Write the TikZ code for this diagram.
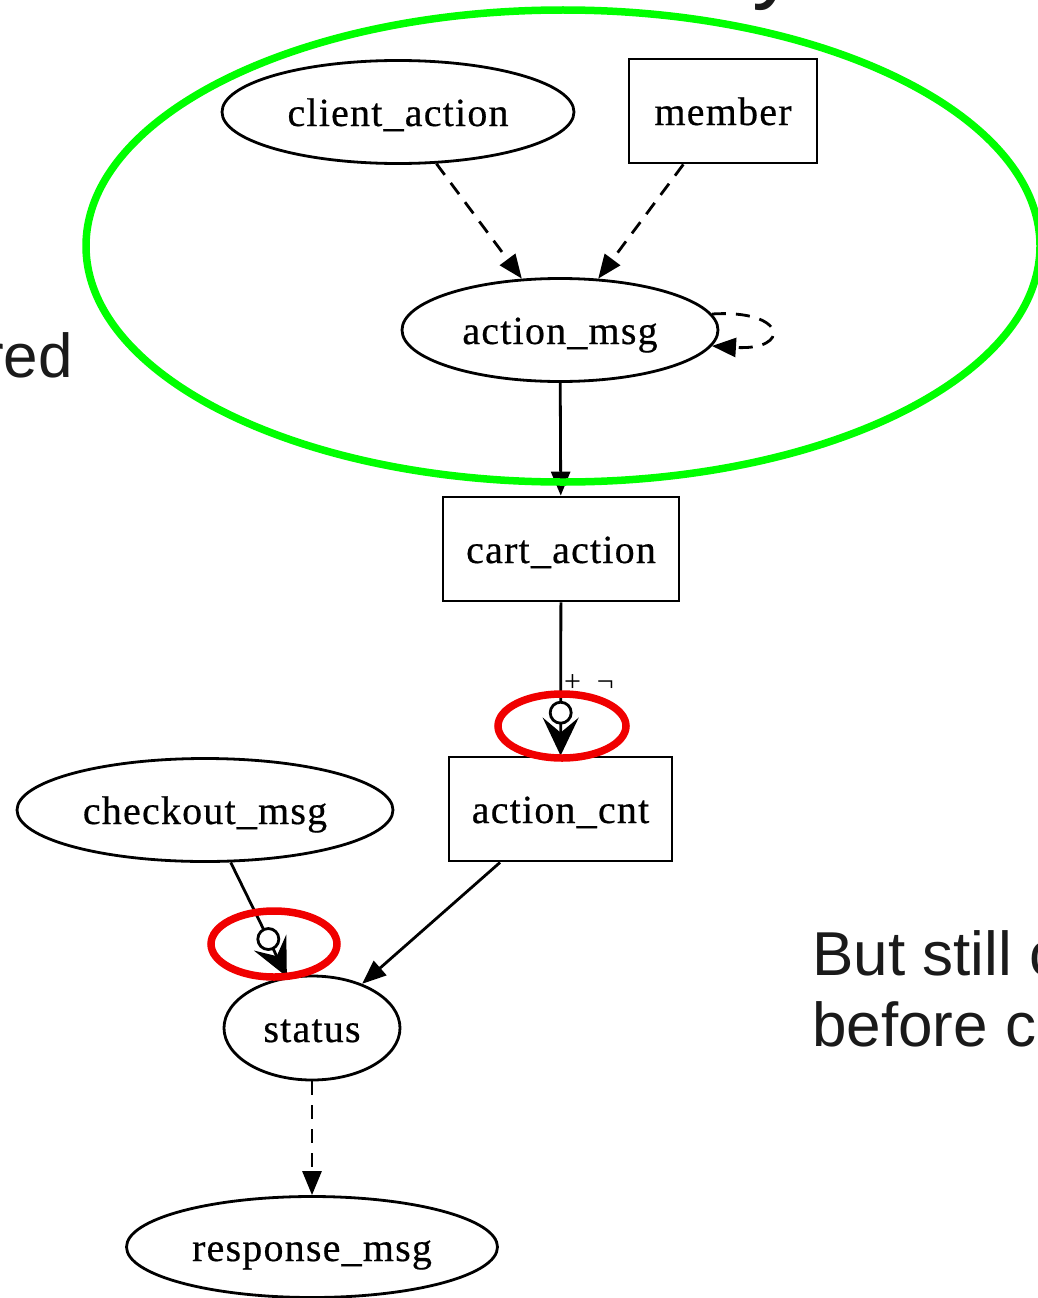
\documentclass[tikz,border=0pt]{standalone}
\usepackage{fontspec}
\setmainfont{Liberation Serif}
\newfontfamily\gvfont[LetterSpace=3,FakeBold=0.5]{Liberation Serif}
\newfontfamily\slidefont{Liberation Sans}
\usetikzlibrary{arrows.meta,shapes.geometric}
\definecolor{hilitegreen}{RGB}{0,255,0}
\definecolor{hilitered}{RGB}{240,0,0}
\definecolor{slidetext}{RGB}{26,26,26}
% label text sits on a baseline a little below the node centre
\newcommand{\gvtext}[1]{\raisebox{-14pt}[0pt][0pt]{#1}}
\begin{document}
\begin{tikzpicture}[x=1pt,y=-1pt,
  gnode/.style={draw, line width=2.8pt, inner sep=0pt,
    font=\gvfont\fontsize{40}{44}\selectfont},
  ell/.style={gnode, ellipse},
  box/.style={gnode, rectangle},
  flow/.style={line width=2.8pt, -{Triangle[length=24pt,width=19pt]}},
  dflow/.style={flow, dash pattern=on 14pt off 10pt},
  veeflow/.style={line width=2.8pt, -{Stealth[length=38pt,width=36pt,inset=15pt]}},
  dotmark/.style={circle, draw, fill=white, line width=2.8pt, inner sep=0pt,
    minimum size=21pt},
  slide/.style={inner sep=0pt, text=slidetext,
    font=\slidefont\fontsize{62}{72}\selectfont},
  ring/.style={line width=7.5pt}]
\useasboundingbox (0,0) rectangle (1038,1298);
\clip (0,0) rectangle (1038,1298);

% slide text around the graph
\node[slide, anchor=base west, font=\slidefont\fontsize{92}{100}\selectfont] (title) at (752,-8) {y};
\node[slide, anchor=base east] (leftword) at (73,377) {red};
\node[slide, anchor=base west] (noteA) at (812,975) {But still c};
\node[slide, anchor=base west] (noteB) at (812,1046) {before c};

% graph nodes
\node[ell, minimum width=352pt, minimum height=103pt] (client_action) at (398,112) {\gvtext{client\_action}};
\node[box, minimum width=188pt, minimum height=104pt] (member) at (723,111) {\gvtext{member}};
\node[ell, minimum width=316pt, minimum height=103pt] (action_msg) at (560,330) {\gvtext{action\_msg}};
\node[box, minimum width=236pt, minimum height=104pt] (cart_action) at (561,549) {\gvtext{cart\_action}};
\node[box, minimum width=223pt, minimum height=104pt] (action_cnt) at (560.5,809) {\gvtext{action\_cnt}};
\node[ell, minimum width=376pt, minimum height=103pt] (checkout_msg) at (205,810) {\gvtext{checkout\_msg}};
\node[ell, minimum width=176pt, minimum height=104pt] (status) at (312,1028) {\gvtext{status}};
\node[ell, minimum width=371pt, minimum height=101pt] (response_msg) at (312,1247) {\gvtext{response\_msg}};

% connectors
\draw[dflow] (client_action) -- (action_msg);
\draw[dflow] (member) -- (action_msg);
\draw[dflow] (action_msg.6) .. controls +(75,-5) and +(80,5) .. (action_msg.-6);
\draw[flow] (action_msg) -- (cart_action);
\draw[veeflow] (cart_action) -- (action_cnt) node[dotmark, pos=0.72] (dotA) {};
\node[inner sep=0pt, font=\fontsize{30}{32}\selectfont] (cartlbl) at (589,683) {+\hspace{16pt}¬};
\draw[veeflow] (checkout_msg) -- (status) node[dotmark, pos=0.67] (dotB) {};
\draw[flow] (action_cnt) -- (status);
\draw[dflow] (status) -- (response_msg);

% highlight rings
\draw[ring, hilitegreen] (563,246) ellipse [x radius=477pt, y radius=236pt];
\draw[ring, hilitered] (562,726) ellipse [x radius=64pt, y radius=32pt];
\draw[ring, hilitered] (274,944) ellipse [x radius=63pt, y radius=33pt];
\end{tikzpicture}
\end{document}
